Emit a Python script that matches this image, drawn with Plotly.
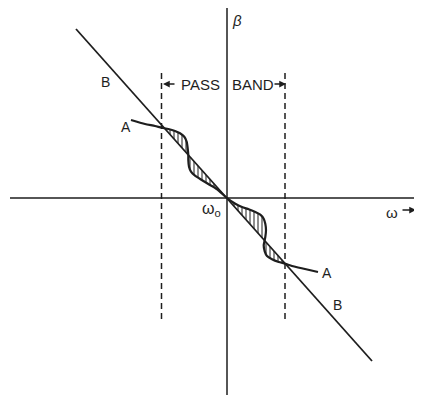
import numpy as np
import plotly.graph_objects as go

# Curve A (omega - omega0, beta)
a_x = [-96, -82, -72, -65.3, -58.7, -52, -47, -42.7, -40.3, -39.3, -38.7, -38.7, -38, -36, -32,
       -25.3, -18.7, -10.3, 0, 8.3, 15, 21.7, 28.3, 33.3, 36.7, 38.3, 39, 38.3, 37.3, 36.7,
       37.7, 40, 45, 51.7, 58.3, 65, 78, 91]
a_y = [78, 74, 72, 70.3, 69, 67, 64.7, 61.3, 56.3, 49.7, 43, 38, 31.3, 26.3, 22.3,
       18, 14, 9, 0, -5.7, -9, -11.3, -14, -16.7, -20.7, -25.7, -32.3, -39, -44, -47.3,
       -53.3, -58, -61.3, -64, -65.7, -68, -71, -74]

# straight line B
b_x = [-151, 145]
b_y = [169, -163]

# pass band edges and their vertical extent
band_x = [-65.5, 58]
band_y = [125, -124]

# axis extents
w_axis = [-217, 188]
beta_axis = [198, -197]

ink = "#1e1e1e"
font = "Liberation Sans"

fig = go.Figure()

# hatched areas between A and B
ax_arr = np.array(a_x, dtype=float)
ay_arr = np.array(a_y, dtype=float)
diff = ay_arr - np.interp(ax_arr, b_x, b_y)
cross = []
for i in range(len(diff) - 1):
    if diff[i] == 0 or np.sign(diff[i]) != np.sign(diff[i + 1]):
        t = diff[i] / (diff[i] - diff[i + 1])
        cross.append((i, ax_arr[i] + t * (ax_arr[i + 1] - ax_arr[i]),
                      ay_arr[i] + t * (ay_arr[i + 1] - ay_arr[i])))
for (i0, x0, y0), (i1, x1, y1) in zip(cross[:-1], cross[1:]):
    px = [x0] + list(ax_arr[i0 + 1:i1 + 1]) + [x1]
    py = [y0] + list(ay_arr[i0 + 1:i1 + 1]) + [y1]
    fig.add_trace(go.Scatter(x=px, y=py, mode="lines", fill="toself",
                             line=dict(width=0), fillcolor="rgba(0,0,0,0)",
                             fillpattern=dict(shape="|", fgcolor=ink, bgcolor="rgba(0,0,0,0)",
                                              size=4, solidity=0.5),
                             hoverinfo="skip"))

# axes
fig.add_trace(go.Scatter(x=w_axis, y=[0, 0], mode="lines", line=dict(color=ink, width=1.5)))
fig.add_trace(go.Scatter(x=[0, 0], y=beta_axis, mode="lines", line=dict(color=ink, width=1.5)))

# pass band dashed lines
for bx in band_x:
    fig.add_trace(go.Scatter(x=[bx, bx], y=band_y, mode="lines",
                             line=dict(color=ink, width=1.5, dash="6px,4px")))

fig.add_trace(go.Scatter(x=b_x, y=b_y, mode="lines", line=dict(color=ink, width=1.8)))
fig.add_trace(go.Scatter(x=a_x, y=a_y, mode="lines",
                         line=dict(color=ink, width=2.2, shape="spline", smoothing=0.6)))

labels = [
    (-101, 71, "A", 14),
    (100, -75, "A", 14),
    (-122, 116, "B", 14),
    (110, -107, "B", 14),
    (10, 178, "<i>β</i>", 15),
    (-16, -11, "ω<sub>o</sub>", 16),
    (165, -14, "ω", 15),
    (-27, 114, "PASS", 15),
    (26, 114, "BAND", 15),
]
for x, y, t, s in labels:
    fig.add_annotation(x=x, y=y, text=t, showarrow=False,
                       font=dict(family=font, size=s, color=ink))

# band arrows and the omega arrow
arrows = [(-64, -51, 114), (59, 46, 114), (189, 174, -12)]
for head, tail, y in arrows:
    fig.add_annotation(x=head, y=y, ax=tail, ay=y, axref="x", ayref="y", text="",
                       showarrow=True, arrowhead=2, arrowsize=0.9, arrowwidth=1.5,
                       arrowcolor=ink)

fig.update_layout(
    width=414, height=391,
    margin=dict(l=0, r=0, t=0, b=0),
    paper_bgcolor="white", plot_bgcolor="white",
    showlegend=False,
    xaxis=dict(range=[-219, 195], visible=False),
    yaxis=dict(range=[-201, 190], visible=False),
)

fig.write_html("out.html")
